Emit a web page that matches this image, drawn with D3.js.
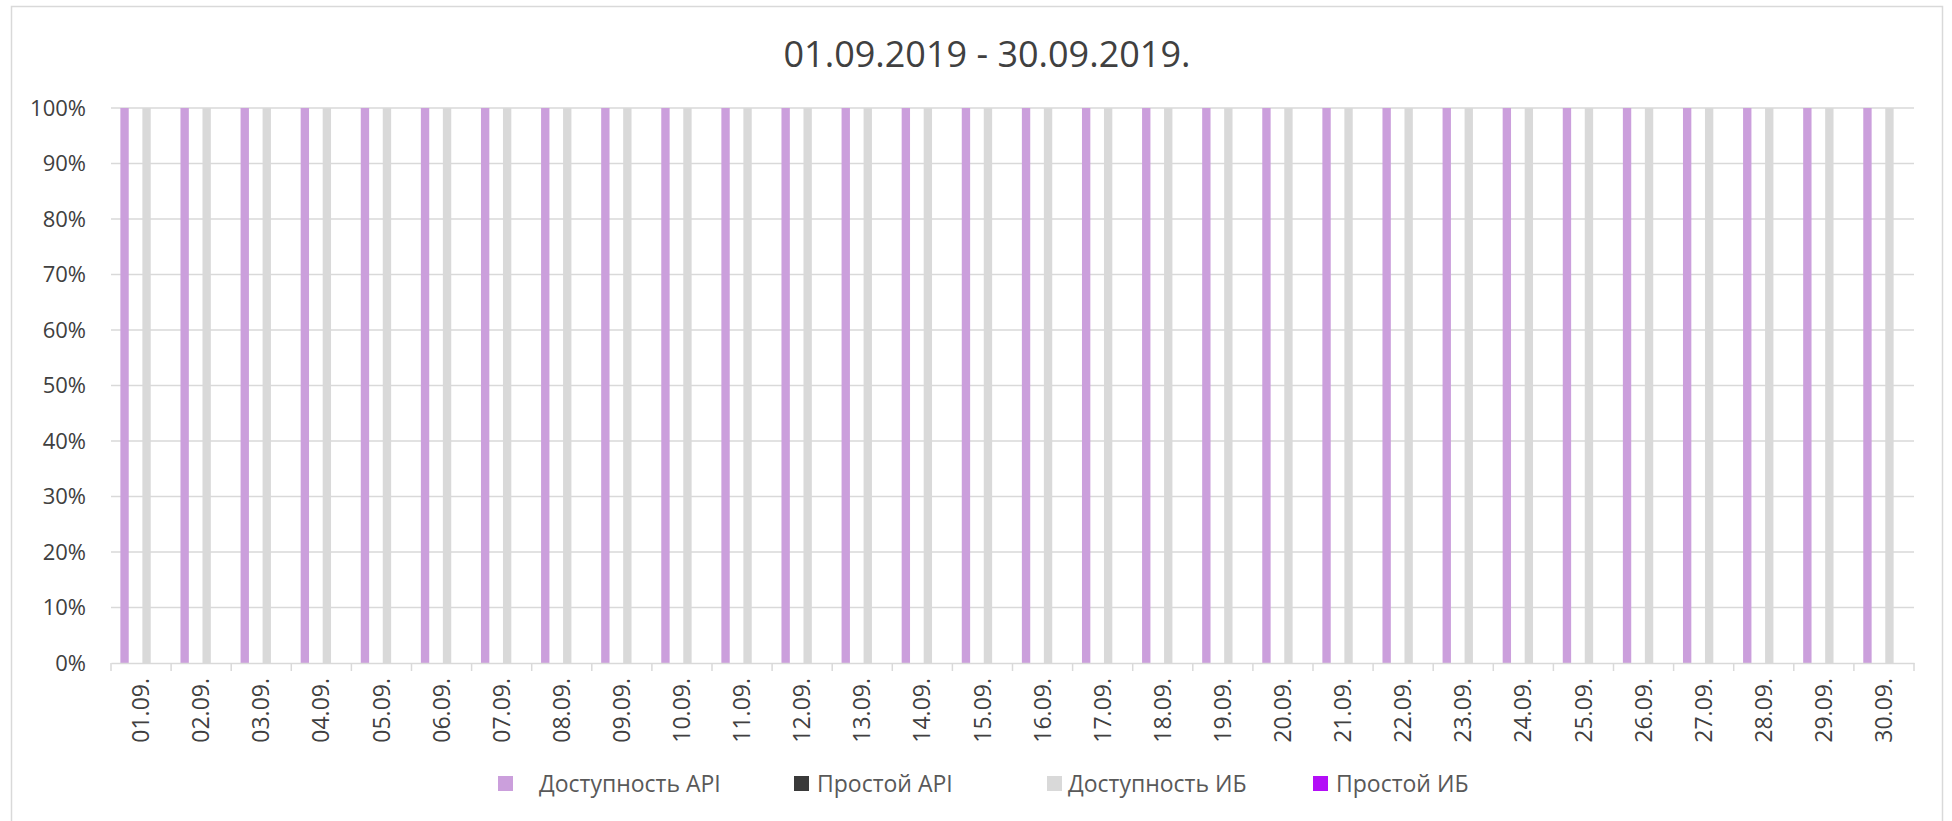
<!DOCTYPE html>
<html>
<head>
<meta charset="utf-8">
<script src="https://cdn.jsdelivr.net/npm/d3@7"></script>
<style>
  html, body { margin: 0; padding: 0; background: #fff; }
  svg { display: block; font-family: "Open Sans", "Noto Sans", sans-serif; }
</style>
</head>
<body>
<svg id="chart" width="1952" height="821"></svg>
<script>
// ---- data ----
const title = "01.09.2019 - 30.09.2019.";
const categories = ["01.09.","02.09.","03.09.","04.09.","05.09.","06.09.","07.09.","08.09.","09.09.","10.09.",
  "11.09.","12.09.","13.09.","14.09.","15.09.","16.09.","17.09.","18.09.","19.09.","20.09.",
  "21.09.","22.09.","23.09.","24.09.","25.09.","26.09.","27.09.","28.09.","29.09.","30.09."];
const seriesNames = ["Доступность API", "Простой API", "Доступность ИБ", "Простой ИБ"];
const availabilityAPI = [1,1,1,1,1,1,1,1,1,1,1,1,1,1,1,1,1,1,1,1,1,1,1,1,1,1,1,1,1,1];
const downtimeAPI     = [0,0,0,0,0,0,0,0,0,0,0,0,0,0,0,0,0,0,0,0,0,0,0,0,0,0,0,0,0,0];
const availabilityIB  = [1,1,1,1,1,1,1,1,1,1,1,1,1,1,1,1,1,1,1,1,1,1,1,1,1,1,1,1,1,1];
const downtimeIB      = [0,0,0,0,0,0,0,0,0,0,0,0,0,0,0,0,0,0,0,0,0,0,0,0,0,0,0,0,0,0];
const yTicks = [0,0.1,0.2,0.3,0.4,0.5,0.6,0.7,0.8,0.9,1.0];

// ---- styles ----
const colors = ["#cb9fdc", "#3a3a3a", "#d9d9d9", "#b30ef7"];
const seriesValues = [availabilityAPI, downtimeAPI, availabilityIB, downtimeIB];

const svg = d3.select("#chart");
const plot = { left: 111, right: 1914, top: 108, bottom: 663 };

// chart border
svg.append("rect").attr("x", 11.5).attr("y", 6.5).attr("width", 1931).attr("height", 830)
  .attr("fill", "#fff").attr("stroke", "#d9d9d9").attr("stroke-width", 1.5);

// title
svg.append("text").attr("x", 987).attr("y", 67).attr("text-anchor", "middle")
  .attr("font-size", 36).attr("fill", "#404040").text(title);

const x0 = d3.scaleBand().domain(categories).range([plot.left, plot.right]).padding(0);
const x1 = d3.scaleBand().domain(seriesNames).range([0, x0.bandwidth()]).paddingInner(0).paddingOuter(0.732);
const y = d3.scaleLinear().domain([0, 1]).range([plot.bottom, plot.top]);

// gridlines
svg.append("g").selectAll("line").data(yTicks.filter(d => d > 0)).join("line")
  .attr("x1", plot.left).attr("x2", plot.right)
  .attr("y1", d => y(d)).attr("y2", d => y(d))
  .attr("stroke", "#d9d9d9").attr("stroke-width", 1.5);

// y labels
const yAxis = d3.axisLeft(y).tickValues(yTicks).tickFormat(d3.format(".0%")).tickSize(0).tickPadding(25);
const gy = svg.append("g").attr("transform", `translate(${plot.left},0)`).call(yAxis);
gy.select(".domain").remove();
gy.selectAll("text").attr("font-size", 22).attr("fill", "#404040").attr("font-family", "'Open Sans', sans-serif");

// bars
const inset = x1.bandwidth() * 0.12;
seriesNames.forEach((s, si) => {
  svg.append("g").selectAll("rect").data(categories).join("rect")
    .attr("x", c => x0(c) + x1(s) + inset)
    .attr("width", x1.bandwidth() - 2 * inset)
    .attr("y", (c, i) => y(seriesValues[si][i]))
    .attr("height", (c, i) => y(0) - y(seriesValues[si][i]))
    .attr("fill", colors[si]);
});

// x axis
const xAxis = d3.axisBottom(x0).tickSize(0).tickFormat("");
const gx = svg.append("g").attr("transform", `translate(0,${plot.bottom})`).call(xAxis);
gx.select(".domain").attr("stroke", "#d9d9d9").attr("stroke-width", 1.5);
// boundary ticks
const bounds = categories.map(c => x0(c)).concat([plot.right]);
svg.append("g").selectAll("line").data(bounds).join("line")
  .attr("x1", d => d).attr("x2", d => d)
  .attr("y1", plot.bottom).attr("y2", plot.bottom + 8)
  .attr("stroke", "#d9d9d9").attr("stroke-width", 1.5);
// x labels
svg.append("g").selectAll("text").data(categories).join("text")
  .attr("transform", c => `translate(${x0(c) + x0.bandwidth() / 2},678) rotate(-90)`)
  .attr("text-anchor", "end").attr("dy", "0.35em")
  .attr("font-size", 23).attr("fill", "#404040").text(c => c);

// legend
const legendX = [498, 794, 1047, 1313];
const legendTextGap = [41, 23, 21, 23];
const lg = svg.append("g");
seriesNames.forEach((s, i) => {
  lg.append("rect").attr("x", legendX[i]).attr("y", 776).attr("width", 15).attr("height", 15).attr("fill", colors[i]);
  lg.append("text").attr("x", legendX[i] + legendTextGap[i]).attr("y", 784).attr("dy", "0.35em")
    .attr("font-size", 23).attr("fill", "#595959").text(s);
});
</script>
</body>
</html>
